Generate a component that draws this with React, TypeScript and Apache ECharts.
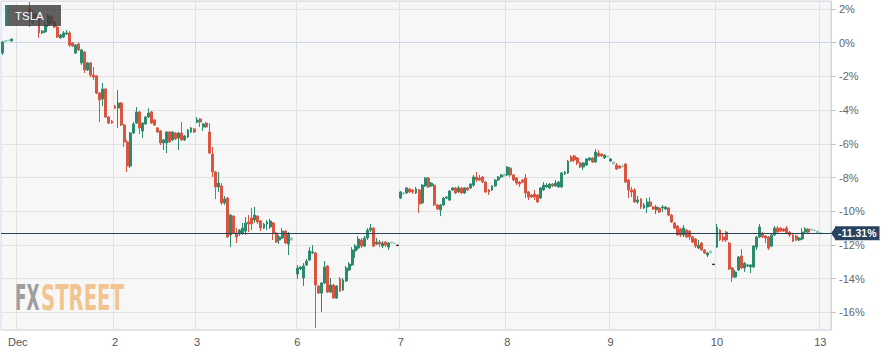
import React, { useEffect, useRef } from 'react';
import * as echarts from 'echarts';

// Each candle: [open, close, low, high] in % change; null = no candle in that slot
type C = [number, number, number, number] | null;

const dayLabels = ['', 'Dec', '2', '3', '6', '7', '8', '9', '10', '13'];

const nov30: C[] = [
  [-0.61, 0.04, -0.73, 0.10],
  [0.07, 0.13, 0.04, 0.16],
  [0.13, 0.16, 0.13, 0.16],
  [0.10, 0.22, 0.07, 0.25],
  null,
];

const dec1: C[] = [
  null, null, null, null,
  [2.06, 1.35, 0.93, 2.42],
  [1.23, 1.70, 1.11, 1.94],
  [1.70, 1.47, 1.35, 1.82],
  [1.47, 0.58, 0.28, 1.58],
  [0.58, 0.69, 0.52, 0.75],
  [0.64, 1.05, 0.58, 1.23],
  [1.05, 1.58, 0.93, 1.70],
  [1.58, 1.17, 1.11, 1.64],
  [1.23, 0.93, 0.87, 1.29],
  [0.93, 0.34, 0.28, 0.99],
  [0.28, 0.46, 0.22, 0.52],
  [0.34, 0.58, 0.28, 0.69],
  [0.52, 0.58, 0.46, 0.75],
  [0.58, -0.14, -0.26, 0.69],
  [-0.02, -0.20, -0.26, 0.04],
  [-0.61, -0.14, -0.67, -0.08],
  [-0.08, -0.43, -0.49, 0.00],
  [-1.20, -0.43, -1.32, -0.37],
  [-0.55, -1.62, -1.80, -0.49],
  [-1.62, -1.20, -1.68, -1.14],
  [-1.20, -1.92, -2.04, -1.14],
  [-1.92, -2.04, -2.21, -1.44],
  [-1.98, -2.99, -3.05, -1.92],
  [-2.99, -3.40, -4.71, -2.93],
  [-3.34, -2.75, -3.76, -2.39],
  [-2.75, -4.41, -4.47, -2.69],
  [-4.41, -4.77, -4.82, -4.35],
  [-4.65, -4.77, -4.82, -4.59],
];

const dec2: C[] = [
  [-3.76, -3.88, -3.94, -3.70],
  [-3.88, -3.58, -5.06, -2.81],
  [-3.58, -4.88, -4.94, -3.52],
  [-4.88, -5.89, -6.19, -4.82],
  [-5.89, -7.32, -7.67, -5.77],
  [-7.32, -5.36, -7.44, -5.30],
  [-5.36, -4.82, -5.42, -4.71],
  [-4.77, -4.11, -4.82, -3.82],
  [-4.11, -5.06, -5.42, -4.05],
  [-5.24, -4.77, -5.66, -4.71],
  [-4.82, -4.41, -4.88, -4.35],
  [-4.41, -4.17, -4.47, -3.88],
  [-4.11, -4.77, -4.82, -4.05],
  [-4.59, -4.88, -4.94, -4.53],
  [-5.06, -5.30, -5.36, -5.00],
  [-5.24, -5.95, -6.07, -5.18],
  [-5.95, -5.77, -6.37, -5.71],
  [-5.95, -5.30, -6.55, -5.24],
  [-5.30, -5.89, -5.95, -5.24],
  [-5.77, -5.30, -5.83, -5.24],
  [-5.36, -5.71, -5.77, -5.30],
  [-5.66, -5.36, -6.37, -5.30],
  [-5.36, -5.77, -5.83, -4.71],
  [-5.77, -5.54, -5.83, -5.48],
  [-5.60, -5.18, -5.66, -5.12],
  [-5.30, -5.06, -5.36, -5.00],
  [-5.12, -5.30, -5.36, -5.06],
];

const dec3: C[] = [
  [-4.71, -4.59, -4.77, -4.41],
  [-4.53, -4.71, -5.00, -4.47],
  [-5.00, -4.82, -5.24, -4.77],
  [-4.77, -5.00, -5.06, -4.71],
  [-5.30, -6.55, -6.61, -4.77],
  [-6.61, -7.67, -7.97, -6.19],
  [-7.67, -8.56, -9.28, -7.61],
  [-8.56, -8.33, -8.86, -7.67],
  [-8.50, -9.51, -9.63, -8.33],
  [-9.51, -9.28, -9.63, -9.10],
  [-9.22, -11.53, -11.59, -9.16],
  [-11.41, -10.23, -12.13, -10.17],
  [-10.29, -11.30, -11.35, -10.23],
  [-11.30, -11.53, -11.89, -11.00],
  [-11.35, -11.12, -11.47, -11.06],
  [-11.30, -11.00, -11.41, -10.70],
  [-11.18, -10.70, -11.41, -10.35],
  [-10.64, -10.76, -11.24, -10.23],
  [-10.41, -10.76, -11.12, -9.81],
  [-10.52, -10.23, -10.70, -9.75],
  [-10.29, -10.64, -10.76, -10.23],
  [-10.58, -11.00, -11.18, -10.52],
  [-11.00, -10.76, -11.06, -10.70],
  [-10.76, -10.64, -11.12, -10.52],
  [-10.94, -10.58, -11.06, -10.46],
  [-10.70, -11.30, -11.71, -10.64],
  [-11.30, -11.83, -11.89, -11.24],
  [-11.71, -11.53, -11.95, -11.41],
  [-11.59, -11.18, -11.65, -11.00],
  [-11.18, -11.89, -11.95, -11.12],
  [-11.95, -11.30, -12.60, -11.24],
  [-11.59, -11.71, -11.77, -11.53],
  null,
];

const dec6: C[] = [
  [-13.73, -13.37, -14.02, -13.19],
  [-13.43, -13.31, -13.49, -13.25],
  [-13.96, -13.25, -14.44, -13.08],
  [-13.19, -12.96, -13.25, -12.84],
  [-12.90, -12.36, -12.96, -12.13],
  [-12.48, -12.42, -12.54, -12.01],
  [-12.48, -14.38, -16.93, -12.42],
  [-14.44, -14.86, -14.91, -14.38],
  [-14.86, -14.26, -15.98, -14.20],
  [-14.26, -13.31, -14.32, -12.96],
  [-13.25, -14.80, -14.86, -13.19],
  [-14.80, -14.38, -14.86, -13.96],
  [-14.38, -15.15, -15.21, -14.32],
  [-15.15, -14.44, -15.21, -14.38],
  [-14.02, -14.74, -14.80, -13.91],
  [-14.68, -14.08, -14.74, -13.96],
  [-14.14, -13.37, -14.20, -13.25],
  [-13.49, -13.14, -13.55, -13.02],
  [-13.19, -12.30, -13.25, -12.13],
  [-12.36, -12.07, -12.78, -11.95],
  [-12.19, -11.65, -12.30, -11.47],
  [-11.71, -12.07, -12.19, -11.59],
  [-12.07, -11.59, -12.13, -11.47],
  [-11.59, -11.12, -11.71, -11.00],
  [-11.12, -11.00, -11.24, -10.76],
  [-11.00, -12.07, -12.13, -10.94],
  [-11.95, -11.83, -12.01, -11.59],
  [-11.83, -11.95, -12.13, -11.71],
  [-12.07, -11.89, -12.19, -11.77],
  [-11.83, -12.01, -12.13, -11.77],
  [-12.13, -11.89, -12.30, -11.83],
  [-11.83, -11.89, -11.89, -11.83],
  [-11.89, -11.92, -11.92, -11.89],
  [-12.01, -12.04, -12.04, -12.01],
];

const dec7: C[] = [
  [-9.22, -8.86, -9.28, -8.80],
  [-8.92, -8.98, -9.04, -8.86],
  [-8.92, -8.62, -8.98, -8.56],
  [-8.68, -8.86, -8.92, -8.62],
  [-8.74, -8.86, -8.98, -8.68],
  [-8.92, -8.68, -8.98, -8.56],
  [-8.74, -9.57, -10.11, -8.68],
  [-9.51, -8.45, -9.57, -8.39],
  [-8.50, -8.03, -8.56, -7.97],
  [-8.03, -8.56, -8.62, -7.97],
  [-8.50, -8.33, -8.56, -8.27],
  [-8.45, -9.63, -9.69, -8.39],
  [-9.63, -9.87, -9.93, -9.57],
  [-9.93, -9.63, -10.29, -9.57],
  [-9.63, -9.22, -9.69, -9.16],
  [-9.22, -9.16, -9.28, -9.10],
  [-9.34, -8.80, -9.40, -8.74],
  [-8.74, -8.62, -8.80, -8.56],
  [-8.62, -8.92, -8.98, -8.56],
  [-8.86, -8.62, -8.92, -8.50],
  [-8.62, -8.92, -8.98, -8.56],
  [-8.92, -8.62, -8.98, -8.56],
  [-8.62, -8.74, -8.80, -8.56],
  [-8.62, -8.39, -8.68, -8.33],
  [-8.45, -7.97, -8.56, -7.85],
  [-7.97, -8.15, -8.27, -7.67],
  [-8.03, -8.15, -8.21, -7.85],
  [-7.97, -8.27, -8.33, -7.91],
  [-8.27, -8.86, -8.92, -8.21],
  [-8.74, -8.86, -9.04, -8.68],
  [-8.74, -8.50, -8.80, -8.45],
  [-8.50, -8.15, -8.56, -8.09],
  [-8.15, -7.97, -8.21, -7.91],
  [-7.97, -7.85, -8.03, -7.79],
  [-7.79, -7.91, -7.97, -7.79],
];

const dec8: C[] = [
  [-7.85, -7.38, -7.91, -7.32],
  [-7.44, -7.85, -7.97, -7.38],
  [-7.85, -8.15, -8.21, -7.79],
  [-8.03, -8.33, -8.45, -7.97],
  [-8.27, -8.39, -8.56, -8.21],
  [-8.15, -8.27, -8.33, -8.09],
  [-8.03, -8.92, -9.22, -7.79],
  [-8.86, -9.16, -9.34, -8.80],
  [-9.04, -9.16, -9.22, -8.98],
  [-8.98, -9.16, -9.34, -8.74],
  [-9.04, -9.45, -9.51, -8.98],
  [-9.22, -8.62, -9.28, -8.56],
  [-8.74, -8.45, -8.80, -8.27],
  [-8.56, -8.45, -8.62, -8.33],
  [-8.62, -8.39, -8.68, -8.33],
  [-8.39, -8.50, -8.56, -8.33],
  [-8.50, -8.33, -8.56, -8.15],
  [-8.56, -8.27, -8.62, -8.21],
  [-8.56, -7.73, -8.62, -7.67],
  [-7.79, -7.67, -7.85, -7.61],
  [-7.73, -7.02, -7.79, -6.96],
  [-6.78, -7.02, -7.08, -6.67],
  [-6.72, -6.96, -7.08, -6.67],
  [-6.84, -7.14, -7.26, -6.78],
  [-7.14, -7.38, -7.44, -7.08],
  [-7.38, -7.14, -7.55, -7.08],
  [-7.26, -6.90, -7.32, -6.84],
  [-6.96, -6.84, -7.02, -6.78],
  [-6.84, -7.08, -7.14, -6.78],
  [-7.08, -6.49, -7.14, -6.31],
  [-6.55, -6.72, -6.78, -6.37],
  [-6.61, -6.72, -6.78, -6.55],
  [-6.84, -6.67, -6.90, -6.61],
  [-6.72, -6.78, -6.78, -6.72],
];

const dec9: C[] = [
  [-7.02, -6.90, -7.08, -6.84],
  [-7.08, -7.20, -7.20, -7.08],
  [-7.26, -7.50, -7.55, -7.14],
  [-7.32, -7.44, -7.50, -7.26],
  [-7.32, -7.38, -7.38, -7.20],
  [-7.20, -8.27, -8.33, -7.14],
  [-8.15, -8.74, -9.22, -8.09],
  [-8.74, -8.86, -9.16, -8.56],
  [-8.74, -9.45, -9.51, -8.62],
  [-9.45, -9.34, -9.57, -9.10],
  [-9.28, -9.75, -9.87, -9.22],
  [-9.81, -9.63, -9.87, -9.51],
  [-9.75, -9.45, -10.11, -9.22],
  [-9.45, -9.69, -9.75, -9.16],
  [-9.75, -9.87, -9.93, -9.69],
  [-9.93, -9.75, -10.17, -9.63],
  [-9.81, -10.05, -10.11, -9.75],
  [-9.81, -9.75, -10.05, -9.63],
  [-9.87, -9.75, -9.93, -9.69],
  [-9.81, -10.23, -10.29, -9.75],
  [-10.23, -10.64, -10.70, -10.17],
  [-10.70, -11.00, -11.06, -10.64],
  [-10.88, -11.41, -11.47, -10.82],
  [-11.06, -11.41, -11.53, -11.00],
  [-11.41, -11.00, -11.53, -10.82],
  [-11.12, -11.53, -11.59, -11.06],
  [-11.18, -11.53, -11.71, -11.12],
  [-11.53, -11.83, -11.89, -11.47],
  [-11.65, -12.07, -12.19, -11.59],
  [-12.19, -12.01, -12.25, -11.71],
  [-11.89, -12.30, -12.36, -11.83],
  [-12.30, -12.48, -12.54, -12.25],
  [-12.60, -12.48, -12.72, -12.42],
  [-12.36, -12.48, -12.48, -12.36],
  [-13.14, -13.17, -13.17, -13.14],
];

const dec10: C[] = [
  [-12.13, -10.94, -12.19, -10.76],
  [-11.12, -11.71, -11.77, -11.06],
  [-11.53, -11.71, -11.83, -11.35],
  [-11.24, -11.71, -11.83, -11.18],
  [-11.89, -13.43, -13.49, -11.83],
  [-13.37, -13.91, -14.20, -13.31],
  [-13.91, -13.61, -13.96, -13.49],
  [-13.49, -12.72, -13.55, -12.66],
  [-12.66, -13.37, -13.43, -12.25],
  [-13.37, -13.08, -13.61, -13.02],
  [-13.25, -13.19, -13.31, -13.14],
  [-13.31, -13.19, -13.67, -13.14],
  [-13.31, -12.07, -13.37, -12.01],
  [-12.13, -11.53, -12.30, -11.47],
  [-11.53, -10.94, -11.59, -10.76],
  [-11.30, -11.53, -11.59, -11.24],
  [-11.47, -11.59, -11.89, -11.41],
  [-11.53, -12.19, -12.30, -11.47],
  [-12.07, -11.41, -12.13, -11.35],
  [-11.41, -11.00, -11.47, -10.88],
  [-11.00, -11.24, -11.30, -10.88],
  [-11.00, -11.18, -11.24, -10.94],
  [-11.06, -11.18, -11.24, -11.00],
  [-11.00, -11.30, -11.35, -10.88],
  [-11.24, -11.41, -11.53, -11.18],
  [-11.41, -11.77, -11.83, -11.35],
  [-11.47, -11.71, -11.77, -11.41],
  [-11.71, -11.59, -11.77, -11.53],
  [-11.65, -11.24, -11.71, -11.00],
  [-11.24, -11.06, -11.30, -10.94],
  [-11.06, -11.24, -11.30, -11.00],
  [-11.06, -11.12, -11.12, -11.06],
  [-11.12, -11.15, -11.15, -11.12],
  [-11.18, -11.30, -11.30, -11.18],
];

const dec13: C[] = [
  [-11.28, -11.31, -11.33, -11.26],
  null, null, null,
];

// extended-hours (pale) and flat after-hours (dark) candles, by index within each day
const extendedHours = [[1, 2], [], [], [31], [31, 32], [1, 34], [33], [1, 4, 33], [31, 32, 33], [0]];
const flatPrints = [[], [], [], [], [33], [], [], [34], [], []];

const LAST = -11.31;
const TICKER = 'TSLA';

const UP = '#2a8b6e';
const DOWN = '#d9553f';
const UP_PALE = '#94c8b7';
const DOWN_PALE = '#eaa89d';
const DARK = '#2b2b2b';
const NAVY = '#28425f';
const FONT = '"Liberation Sans", Arial, Helvetica, sans-serif';

export default function App() {
  const ref = useRef<HTMLDivElement>(null);

  useEffect(() => {
    const el = ref.current;
    if (!el) return;
    const chart = echarts.init(el, null, { renderer: 'svg' });

    const days = [nov30, dec1, dec2, dec3, dec6, dec7, dec8, dec9, dec10, dec13];
    const flat: any[] = [];
    const labelAt: Record<number, string> = {};
    days.forEach((d, di) => {
      if (dayLabels[di]) labelAt[flat.length] = dayLabels[di];
      d.forEach((c, j) => {
        if (!c) {
          flat.push('-');
          return;
        }
        let st: any = null;
        if (flatPrints[di].includes(j)) st = { color: DARK, color0: DARK, borderColor: DARK, borderColor0: DARK };
        else if (extendedHours[di].includes(j)) st = { color: UP_PALE, color0: DOWN_PALE, borderColor: UP_PALE, borderColor0: DOWN_PALE };
        flat.push(st ? { value: c, itemStyle: st } : c);
      });
    });
    const cats = flat.map((_, i) => String(i));
    const isDayStart = (i: number) => labelAt[i] !== undefined;

    const ctx = document.createElement('canvas').getContext('2d');
    const wmFont = 'bold 35px "Liberation Sans Narrow", "DejaVu Sans Condensed", "Liberation Sans", sans-serif';
    let wFX = 50;
    let wST = 140;
    if (ctx) {
      ctx.font = wmFont;
      wFX = ctx.measureText('FX').width || wFX;
      wST = ctx.measureText('STREET').width || wST;
    }

    chart.setOption({
      animation: false,
      backgroundColor: '#ffffff',
      grid: {
        left: 1, top: 1, right: 65, bottom: 26,
        show: true, backgroundColor: '#f7f7f7', borderColor: '#ccd6eb', borderWidth: 1,
        outerBoundsMode: 'none',
      },
      xAxis: {
        type: 'category',
        data: cats,
        boundaryGap: true,
        axisLine: { show: true, lineStyle: { color: '#ccd6eb' } },
        axisTick: { show: true, length: 5, interval: (i: number) => isDayStart(i), lineStyle: { color: '#ccd6eb' } },
        axisLabel: {
          interval: (i: number) => isDayStart(i),
          formatter: (_v: string, i: number) => labelAt[i] ?? '',
          color: '#555', fontSize: 11, fontFamily: FONT, margin: 6,
        },
        splitLine: { show: true, interval: (i: number) => isDayStart(i), lineStyle: { color: '#e2e2e2' } },
      },
      yAxis: {
        type: 'value',
        position: 'right',
        min: -17.05,
        max: 2.475,
        splitNumber: 10,
        minInterval: 2,
        maxInterval: 2,
        axisLine: { show: true, lineStyle: { color: '#ccd6eb' } },
        axisTick: { show: true, length: 5, lineStyle: { color: '#c4c4c4' } },
        axisLabel: {
          color: '#666', fontSize: 11, fontFamily: FONT, margin: 8,
          showMinLabel: false, showMaxLabel: false,
          formatter: (v: number) => `${Math.round(v)}%`,
        },
        splitLine: { show: true, lineStyle: { color: '#e2e2e2' } },
      },
      series: [
        {
          type: 'candlestick',
          data: flat,
          barWidth: '80%',
          itemStyle: { color: UP, color0: DOWN, borderColor: UP, borderColor0: DOWN, borderWidth: 1 },
          markLine: {
            silent: true,
            symbol: ['none', 'none'],
            lineStyle: { color: NAVY, width: 1, type: 'solid' },
            label: {
              show: true, position: 'end', distance: 4,
              formatter: `${LAST.toFixed(2)}%`,
              color: '#fff', backgroundColor: NAVY, fontWeight: 'bold', fontSize: 10.5, fontFamily: FONT,
              padding: [2, 3, 1, 3],
            },
            data: [{ yAxis: LAST }],
          },
        },
      ],
      graphic: [
        {
          id: 'wmFX', type: 'text', x: 15, y: 298, scaleX: 24.5 / wFX, z: 1, silent: true,
          style: { text: 'FX', font: wmFont, fill: '#9e9e9e', align: 'left', verticalAlign: 'middle' },
        },
        {
          id: 'wmST', type: 'text', x: 41, y: 298, scaleX: 83 / wST, z: 1, silent: true,
          style: { text: 'STREET', font: wmFont, fill: '#f2c590', align: 'left', verticalAlign: 'middle' },
        },
        {
          id: 'tagBox', type: 'rect', z: 100, silent: true,
          shape: { x: 5, y: 5, width: 56, height: 21 },
          style: { fill: 'rgba(62,62,62,0.82)' },
        },
        {
          id: 'tagStripe', type: 'rect', z: 101, silent: true,
          shape: { x: 5, y: 5, width: 2, height: 21 },
          style: { fill: UP },
        },
        {
          id: 'tagText', type: 'text', x: 15, y: 16, z: 102, silent: true,
          style: { text: TICKER, font: `11.5px ${FONT}`, fill: '#ffffff', align: 'left', verticalAlign: 'middle' },
        },
      ],
    });

    const py = chart.convertToPixel({ yAxisIndex: 0 }, LAST) as number;
    const px = 831;
    chart.setOption({
      graphic: [
        {
          id: 'priceArrow', type: 'polygon', z: 100, silent: true,
          shape: { points: [[px, py], [px + 5, py - 7], [px + 5, py + 7]] },
          style: { fill: NAVY },
        },
      ],
    });

    return () => chart.dispose();
  }, []);

  return <div ref={ref} style={{ position: 'absolute', left: 0, top: 0, width: 896, height: 356 }} />;
}
